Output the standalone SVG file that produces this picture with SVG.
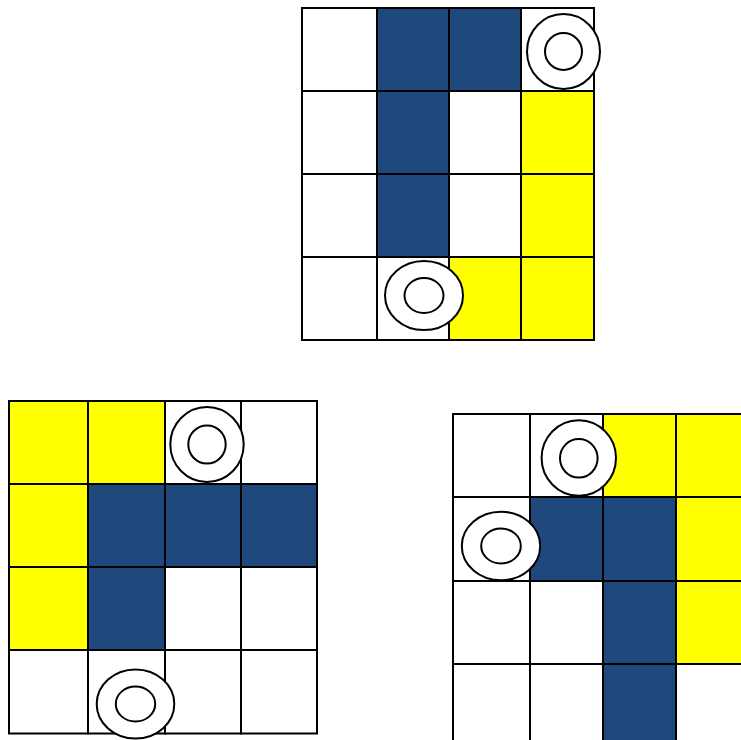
<svg xmlns="http://www.w3.org/2000/svg" width="741" height="740" viewBox="0 0 741 740">
<style>
.w,.b,.y{stroke:#000;stroke-width:2}
.w{fill:#fff}.b{fill:#1F497D}.y{fill:#FFFF00}
ellipse{fill:#fff;stroke:#000;stroke-width:2}
</style>
<g id="grid1">
<rect class="w" x="302" y="8" width="75" height="83"/>
<rect class="b" x="377" y="8" width="72" height="83"/>
<rect class="b" x="449" y="8" width="72" height="83"/>
<rect class="w" x="521" y="8" width="73" height="83"/>
<rect class="w" x="302" y="91" width="75" height="83"/>
<rect class="b" x="377" y="91" width="72" height="83"/>
<rect class="w" x="449" y="91" width="72" height="83"/>
<rect class="y" x="521" y="91" width="73" height="83"/>
<rect class="w" x="302" y="174" width="75" height="83"/>
<rect class="b" x="377" y="174" width="72" height="83"/>
<rect class="w" x="449" y="174" width="72" height="83"/>
<rect class="y" x="521" y="174" width="73" height="83"/>
<rect class="w" x="302" y="257" width="75" height="83"/>
<rect class="w" x="377" y="257" width="72" height="83"/>
<rect class="y" x="449" y="257" width="72" height="83"/>
<rect class="y" x="521" y="257" width="73" height="83"/>
</g>
<g id="ring1a"><ellipse cx="563.5" cy="51.5" rx="36.5" ry="37.5"/><ellipse cx="563.5" cy="51.5" rx="18.5" ry="18.5"/></g>
<g id="ring1b"><ellipse cx="424" cy="295.5" rx="39" ry="34.5"/><ellipse cx="424" cy="295.5" rx="19.5" ry="17.5"/></g>
<g id="grid2">
<rect class="y" x="9" y="401" width="79" height="83"/>
<rect class="y" x="88" y="401" width="77" height="83"/>
<rect class="w" x="165" y="401" width="76" height="83"/>
<rect class="w" x="241" y="401" width="76" height="83"/>
<rect class="y" x="9" y="484" width="79" height="83"/>
<rect class="b" x="88" y="484" width="77" height="83"/>
<rect class="b" x="165" y="484" width="76" height="83"/>
<rect class="b" x="241" y="484" width="76" height="83"/>
<rect class="y" x="9" y="567" width="79" height="83"/>
<rect class="b" x="88" y="567" width="77" height="83"/>
<rect class="w" x="165" y="567" width="76" height="83"/>
<rect class="w" x="241" y="567" width="76" height="83"/>
<rect class="w" x="9" y="650" width="79" height="83.5"/>
<rect class="w" x="88" y="650" width="77" height="83.5"/>
<rect class="w" x="165" y="650" width="76" height="83.5"/>
<rect class="w" x="241" y="650" width="76" height="83.5"/>
</g>
<g id="ring2a"><ellipse cx="207" cy="444.5" rx="36.7" ry="37.5"/><ellipse cx="207" cy="444.5" rx="18.7" ry="19"/></g>
<g id="ring2b"><ellipse cx="135.5" cy="704" rx="38.8" ry="34.5"/><ellipse cx="135.5" cy="704" rx="19.7" ry="17.5"/></g>
<g id="grid3">
<rect class="w" x="453" y="414" width="77" height="83"/>
<rect class="w" x="530" y="414" width="73" height="83"/>
<rect class="y" x="603" y="414" width="73" height="83"/>
<rect class="y" x="676" y="414" width="73" height="83"/>
<rect class="w" x="453" y="497" width="77" height="84"/>
<rect class="b" x="530" y="497" width="73" height="84"/>
<rect class="b" x="603" y="497" width="73" height="84"/>
<rect class="y" x="676" y="497" width="73" height="84"/>
<rect class="w" x="453" y="581" width="77" height="83"/>
<rect class="w" x="530" y="581" width="73" height="83"/>
<rect class="b" x="603" y="581" width="73" height="83"/>
<rect class="y" x="676" y="581" width="73" height="83"/>
<rect class="w" x="453" y="664" width="77" height="83"/>
<rect class="w" x="530" y="664" width="73" height="83"/>
<rect class="b" x="603" y="664" width="73" height="83"/>
<rect class="w" x="676" y="664" width="73" height="83"/>
</g>
<g id="ring3a"><ellipse cx="578.8" cy="458" rx="37.2" ry="37.8"/><ellipse cx="578.8" cy="458.3" rx="18.8" ry="19.3"/></g>
<g id="ring3b"><ellipse cx="501" cy="546" rx="39.2" ry="34.2"/><ellipse cx="501" cy="546" rx="19.8" ry="17.5"/></g>
<g id="connectors"/>
</svg>
